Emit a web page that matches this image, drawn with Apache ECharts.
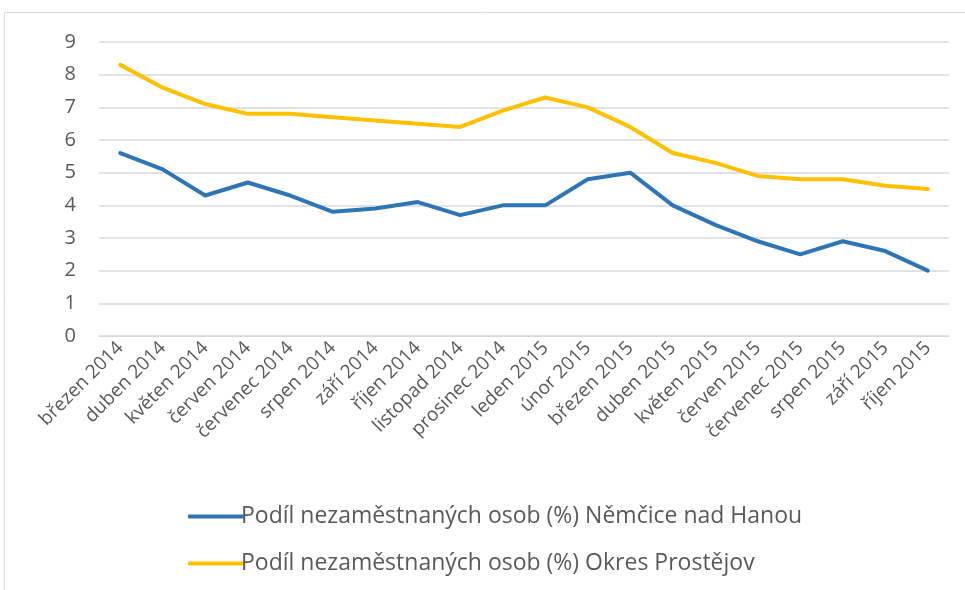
<!DOCTYPE html>
<html>
<head>
<meta charset="utf-8">
<script src="https://cdn.jsdelivr.net/npm/echarts@6/dist/echarts.min.js"></script>
<style>
  html, body { margin: 0; padding: 0; background: #fff; }
  #chart { width: 965px; height: 590px; }
</style>
</head>
<body>
<div id="chart"></div>
<script>
const months = [
  'březen 2014', 'duben 2014', 'květen 2014', 'červen 2014', 'červenec 2014',
  'srpen 2014', 'září 2014', 'říjen 2014', 'listopad 2014', 'prosinec 2014',
  'leden 2015', 'únor 2015', 'březen 2015', 'duben 2015', 'květen 2015',
  'červen 2015', 'červenec 2015', 'srpen 2015', 'září 2015', 'říjen 2015'
]
const nemcice = [5.6, 5.1, 4.3, 4.7, 4.3, 3.8, 3.9, 4.1, 3.7, 4.0, 4.0, 4.8, 5.0, 4.0, 3.4, 2.9, 2.5, 2.9, 2.6, 2.0]
const prostejov = [8.3, 7.6, 7.1, 6.8, 6.8, 6.7, 6.6, 6.5, 6.4, 6.9, 7.3, 7.0, 6.4, 5.6, 5.3, 4.9, 4.8, 4.8, 4.6, 4.5]
const seriesNames = [
  'Podíl nezaměstnaných osob (%) Němčice nad Hanou',
  'Podíl nezaměstnaných osob (%) Okres Prostějov'
]

const font = '"Open Sans", "Noto Sans", sans-serif'
const chart = echarts.init(document.getElementById('chart'))

chart.setOption({
  backgroundColor: '#fff',
  animation: false,
  textStyle: { fontFamily: font, color: '#595959' },
  graphic: [{
    type: 'rect',
    shape: { x: 4.5, y: 12.5, width: 1000, height: 700 },
    style: { fill: 'none', stroke: '#d9d9d9', lineWidth: 1 },
    silent: true
  }],
  grid: { left: 99, right: 16, top: 42, bottom: 254 },
  legend: {
    orient: 'vertical',
    left: 183,
    top: 500,
    itemGap: 24,
    itemWidth: 56,
    itemHeight: 4,
    icon: 'roundRect',
    textStyle: { fontFamily: font, fontSize: 23, color: '#595959', padding: [0, 0, 0, -8] },
    data: seriesNames
  },
  xAxis: {
    type: 'category',
    data: months,
    boundaryGap: true,
    axisLine: { lineStyle: { color: '#d9d9d9', width: 1 } },
    axisTick: { show: false },
    axisLabel: {
      rotate: 45,
      interval: 0,
      fontSize: 19,
      color: '#595959',
      margin: 9,
      fontFamily: font
    }
  },
  yAxis: {
    type: 'value',
    min: 0,
    max: 9,
    interval: 1,
    axisLine: { show: false },
    axisTick: { show: false },
    axisLabel: { fontSize: 20, color: '#595959', margin: 23, fontFamily: font },
    splitLine: { lineStyle: { color: '#d9d9d9', width: 1.5 } }
  },
  series: [
    {
      name: seriesNames[0],
      type: 'line',
      data: nemcice,
      symbol: 'none',
      lineStyle: { width: 4, color: '#2e75b6', cap: 'round', join: 'round' },
      itemStyle: { color: '#2e75b6' }
    },
    {
      name: seriesNames[1],
      type: 'line',
      data: prostejov,
      symbol: 'none',
      lineStyle: { width: 4, color: '#ffc000', cap: 'round', join: 'round' },
      itemStyle: { color: '#ffc000' }
    }
  ]
})
</script>
</body>
</html>
